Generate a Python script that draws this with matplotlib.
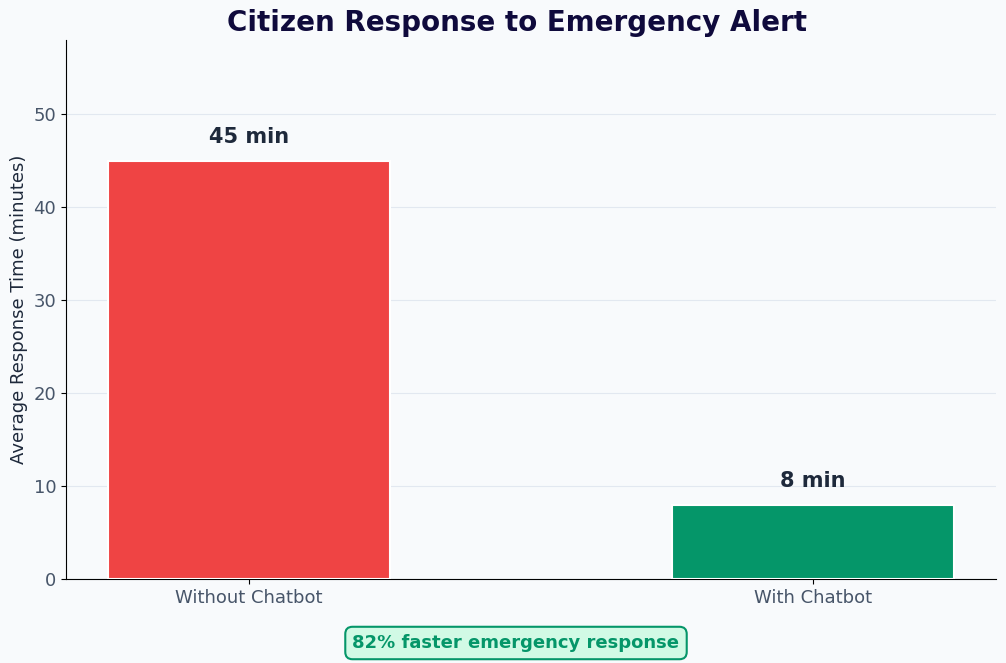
import matplotlib
matplotlib.use("Agg")
import matplotlib.pyplot as plt

categories = ["Without Chatbot", "With Chatbot"]
values = [45, 8]
labels = ["45 min", "8 min"]
colors = ["#ef4444", "#059669"]

fig = plt.figure(figsize=(10.06, 6.63), dpi=100, facecolor="#f8fafc")
ax = fig.add_axes([66/1006, 1-579/663, 930/1006, 539/663])
ax.set_facecolor("#f8fafc")
x = range(len(categories))
ax.bar(x, values, width=0.5, color=colors, edgecolor="white", linewidth=1.5, zorder=3)
for xi, v, l in zip(x, values, labels):
    ax.text(xi, v + 1.5, l, ha="center", va="bottom", fontsize=15, fontweight="bold", color="#1e293b")
ax.set_xlim(-0.325, 1.325)
ax.set_ylim(0, 58)
ax.set_xticks(list(x))
ax.set_xticklabels(categories, fontsize=13, color="#475569")
ax.tick_params(axis="y", labelsize=13, labelcolor="#475569")
ax.set_yticks([0, 10, 20, 30, 40, 50])
ax.grid(axis="y", color="#e2e8f0", linewidth=0.8, zorder=0)
ax.spines["top"].set_visible(False)
ax.spines["right"].set_visible(False)
ax.set_ylabel("Average Response Time (minutes)", fontsize=13, color="#1e293b")
fig.text(0.514, 1-23/663, "Citizen Response to Emergency Alert", ha="center", va="center",
         fontsize=20, fontweight="bold", color="#0f0a3c")
fig.text(516/1006, 1-643/663, "82% faster emergency response", ha="center", va="center",
         fontsize=13, fontweight="bold", color="#059669",
         bbox=dict(boxstyle="round,pad=0.4", facecolor="#d1fae5", edgecolor="#059669", linewidth=1.5))
fig.savefig("out.png", dpi=100, facecolor=fig.get_facecolor())
